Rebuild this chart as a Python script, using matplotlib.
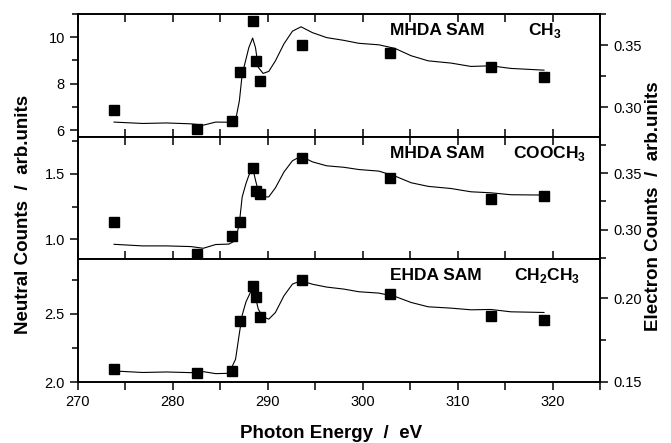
import numpy as np
import matplotlib
matplotlib.use("Agg")
import matplotlib.pyplot as plt
from matplotlib.ticker import MultipleLocator

plt.rcParams['font.family'] = ['Liberation Sans', 'DejaVu Sans']
plt.rcParams['mathtext.fontset'] = 'custom'
plt.rcParams['mathtext.rm'] = 'Liberation Sans'
plt.rcParams['mathtext.bf'] = 'Liberation Sans:bold'

# neutral counts (squares, left axis)
pt_e = [273.8, 282.5, 286.2, 287.1, 288.4, 288.8, 289.2, 293.6, 302.9, 313.5, 319.1]
neu_ch3 = [6.86, 6.03, 6.39, 8.51, 10.70, 8.97, 8.10, 9.66, 9.34, 8.72, 8.27]
neu_cooch3 = [1.13, 0.886, 1.025, 1.134, 1.546, 1.37, 1.345, 1.622, 1.465, 1.305, 1.332]
neu_ch2ch3 = [2.094, 2.066, 2.084, 2.448, 2.70, 2.62, 2.476, 2.744, 2.645, 2.485, 2.45]

# electron counts (line, right axis)
line_e = [273.8, 276.8, 279.3, 281.9, 283.2, 284.5, 285.9, 286.6, 287.0, 287.3,
          287.7, 288.0, 288.4, 288.7, 289.0, 289.5, 290.1, 290.8, 291.7, 292.6,
          293.5, 294.7, 296.2, 298.0, 299.6, 301.7, 303.4, 305.1, 306.9, 309.3,
          311.4, 313.5, 315.6, 319.1]
el_ch3 = [0.288, 0.2869, 0.2873, 0.2866, 0.2855, 0.288, 0.2879, 0.2895, 0.305, 0.3266,
          0.3387, 0.348, 0.3556, 0.348, 0.332, 0.3272, 0.3288, 0.3373, 0.351, 0.3612,
          0.3647, 0.360, 0.356, 0.3538, 0.3514, 0.3502, 0.3473, 0.3414, 0.3373, 0.3355,
          0.3328, 0.3333, 0.3312, 0.3298]
el_cooch3 = [0.287, 0.2856, 0.2856, 0.285, 0.2835, 0.2868, 0.2872, 0.2903, 0.3056, 0.329,
             0.3408, 0.348, 0.355, 0.3438, 0.334, 0.329, 0.329, 0.337, 0.351, 0.361,
             0.365, 0.360, 0.3565, 0.3552, 0.3532, 0.3518, 0.3474, 0.3415, 0.3383, 0.3364,
             0.3335, 0.3326, 0.3309, 0.3306]
el_ch2ch3 = [0.1566, 0.1557, 0.156, 0.1556, 0.1562, 0.155, 0.1552, 0.1636, 0.179, 0.190,
             0.198, 0.2016, 0.2066, 0.2006, 0.1935, 0.189, 0.1876, 0.1916, 0.2016, 0.2086,
             0.2106, 0.2085, 0.2068, 0.2056, 0.204, 0.2032, 0.2012, 0.1976, 0.195, 0.1942,
             0.1932, 0.1934, 0.192, 0.1916]

panels = [
    dict(neu=neu_ch3, el=el_ch3, sam='MHDA SAM', grp='CH$_{\\mathbf{3}}$', grp_x=317.4,
         ylim=(5.7, 11.0), ymaj=2, ymin=1, rlim=(0.276, 0.375), rmaj=0.05, rmin=0.025, fmt='{:.0f}'),
    dict(neu=neu_cooch3, el=el_cooch3, sam='MHDA SAM', grp='COOCH$_{\\mathbf{3}}$', grp_x=315.8,
         ylim=(0.85, 1.78), ymaj=0.5, ymin=0.25, rlim=(0.274, 0.382), rmaj=0.05, rmin=0.025, fmt='{:.1f}'),
    dict(neu=neu_ch2ch3, el=el_ch2ch3, sam='EHDA SAM', grp='CH$_{\\mathbf{2}}$CH$_{\\mathbf{3}}$', grp_x=315.9,
         ylim=(2.0, 2.9), ymaj=0.5, ymin=0.25, rlim=(0.15, 0.2236), rmaj=0.05, rmin=0.025, fmt='{:.1f}'),
]

fig = plt.figure(figsize=(6.71, 4.43), dpi=100)
left, width = 78 / 671, 522 / 671
bottoms = [(443 - 137) / 443, (443 - 259) / 443, (443 - 382) / 443]
heights = [123 / 443, 122 / 443, 123 / 443]

for i, p in enumerate(panels):
    ax = fig.add_axes([left, bottoms[i], width, heights[i]])
    ax2 = ax.twinx()
    ax.plot(pt_e, p['neu'], 's', color='black', ms=7.5, zorder=3)
    ax2.plot(line_e, p['el'], '-', color='black', lw=0.8)
    ax.set_xlim(270, 325)
    ax.set_ylim(*p['ylim'])
    ax2.set_ylim(*p['rlim'])
    ax.xaxis.set_major_locator(MultipleLocator(10))
    ax.xaxis.set_minor_locator(MultipleLocator(5))
    ax.yaxis.set_major_locator(MultipleLocator(p['ymaj']))
    ax.yaxis.set_minor_locator(MultipleLocator(p['ymin']))
    ax2.yaxis.set_major_locator(MultipleLocator(p['rmaj']))
    ax2.yaxis.set_minor_locator(MultipleLocator(p['rmin']))
    ax.set_yticklabels([p['fmt'].format(v) for v in ax.get_yticks()])
    ax2.set_yticklabels(['{:.2f}'.format(v) for v in ax2.get_yticks()])
    for a in (ax, ax2):
        for s in a.spines.values():
            s.set_linewidth(1.2)
    ax.tick_params(axis='y', which='major', direction='out', length=6, width=1.1, labelsize=10.5)
    ax.tick_params(axis='y', which='minor', direction='out', length=4, width=1.1)
    ax2.tick_params(axis='y', which='major', direction='out', length=6, width=1.1, labelsize=10.5)
    ax2.tick_params(axis='y', which='minor', direction='out', length=4, width=1.1)
    if i == 0:
        ax.tick_params(axis='x', which='both', direction='in', top=True, bottom=False,
                       labelbottom=False, length=6, width=1.1)
    elif i == 1:
        ax.tick_params(axis='x', which='both', direction='inout', top=True, bottom=True,
                       labelbottom=False, length=12, width=1.1)
    else:
        ax.tick_params(axis='x', which='both', direction='out', top=False, bottom=True,
                       length=6, width=1.1, labelsize=10.5)
    ax.text(302.9, 0.83, p['sam'], transform=ax.get_xaxis_transform(),
            fontsize=12.5, fontweight='bold', va='baseline')
    ax.text(p['grp_x'], 0.83, p['grp'], transform=ax.get_xaxis_transform(),
            fontsize=12.5, fontweight='bold', va='baseline')

fig.text(0.493, 0.022, 'Photon Energy  /  eV', ha='center', va='center',
         fontsize=13.5, fontweight='bold')
fig.text(0.035, 0.515, 'Neutral Counts  /  arb.units', ha='center', va='center',
         rotation=90, fontsize=13.5, fontweight='bold')
fig.text(0.974, 0.535, 'Electron Counts  /  arb.units', ha='center', va='center',
         rotation=90, fontsize=13.5, fontweight='bold')

fig.savefig('out.png', dpi=100)
